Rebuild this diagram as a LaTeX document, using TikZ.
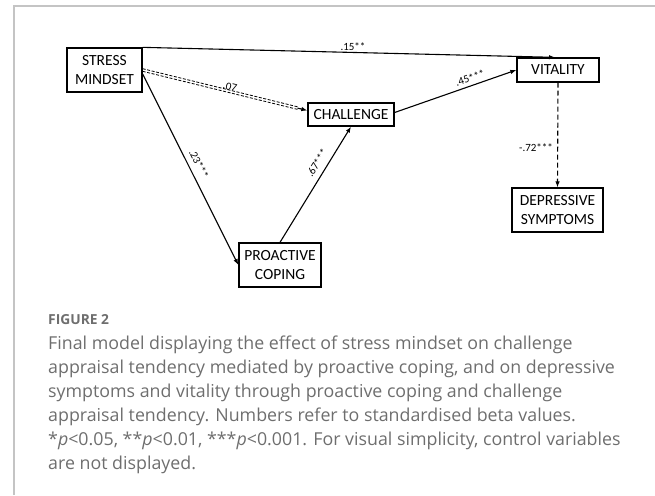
\documentclass[tikz,border=0pt]{standalone}
\usepackage{fontspec}
\setmainfont{Carlito}
\newfontfamily\capfont{Open Sans}
\usetikzlibrary{arrows.meta,calc}
\definecolor{framegray}{HTML}{C4C4C4}
\definecolor{capgray}{HTML}{6E6E6E}
\tikzset{
  box/.style={draw=black,line width=1.3pt,inner sep=1.5pt,align=center,font=\fontsize{15.5}{19.5}\selectfont},
  conn/.style={line width=1.1pt,-{Latex[length=6pt,width=4.5pt]}},
  lbl/.style={font=\fontsize{11}{12}\selectfont,inner sep=0.5pt},
  dbl/.style={line width=0.8pt,dash pattern=on 3pt off 1.6pt},
  capline/.style={anchor=base west,inner sep=0pt,text=capgray,font=\capfont\fontsize{17.8}{22}\selectfont},
}
\begin{document}
\begin{tikzpicture}[x=1pt,y=-1pt]
\useasboundingbox (0,0) rectangle (655,495);
% frame
\draw[framegray,line width=1.6pt] (14,495) -- (14,6) -- (655,6);
% boxes
\node[box,minimum width=75pt,minimum height=44pt] (stress) at (104.5,70) {STRESS\\MINDSET};
\node[box,minimum width=86pt,minimum height=23pt] (chal) at (351,114.5) {CHALLENGE};
\node[box,minimum width=82pt,minimum height=24pt] (vit) at (558,70) {VITALITY};
\node[box,minimum width=91pt,minimum height=44pt] (dep) at (557.5,210) {DEPRESSIVE\\SYMPTOMS};
\node[box,minimum width=82pt,minimum height=44pt] (pro) at (280,265) {PROACTIVE\\COPING};
% connectors
\draw[conn] (stress.north east) -- ([xshift=-3pt]vit.north);
\coordinate (dstart) at ([yshift=0pt]stress.east);
\coordinate (dend) at ([yshift=4pt]chal.west);
\draw[dbl] ($(dstart)+(0,-1.3)$) -- ($(dstart)!0.94!(dend)+(0,-1.3)$);
\draw[dbl] ($(dstart)+(0,1.3)$) -- ($(dstart)!0.94!(dend)+(0,1.3)$);
\draw[conn] ($(dstart)!0.94!(dend)$) -- (dend);
\draw[conn] ([yshift=-4pt]stress.east) -- (pro.west);
\draw[conn] (pro.north) -- (chal.south);
\draw[conn] ([yshift=2pt]chal.east) -- (vit.west);
\draw[conn,dash pattern=on 5pt off 3pt] (vit.south) -- (dep.north);
% labels
\node[lbl] (l15) at (353,47) {.15**};
\node[lbl,rotate=-13.5] (l07) at (230,87) {.07};
\node[lbl,rotate=-63] (l23) at (199,164) {.23***};
\node[lbl,rotate=58] (l67) at (317,163) {.67***};
\node[lbl,rotate=19] (l45) at (470,78) {.45***};
\node[lbl] (l72) at (536,148) {-.72***};
% caption
\node[anchor=base west,inner sep=0pt,text=capgray,font=\capfont\bfseries\fontsize{13.8}{16}\selectfont] (fig) at (48,324) {FIGURE 2};
\node[capline] (c1) at (48,349) {Final model displaying the effect of stress mindset on challenge};
\node[capline] (c2) at (48,373) {appraisal tendency mediated by proactive coping, and on depressive};
\node[capline] (c3) at (48,397) {symptoms and vitality through proactive coping and challenge};
\node[capline] (c4) at (48,421) {appraisal tendency. Numbers refer to standardised beta values.};
\node[capline] (c5) at (48,445) {*\textit{p}<0.05, **\textit{p}<0.01, ***\textit{p}<0.001. For visual simplicity, control variables};
\node[capline] (c6) at (48,469) {are not displayed.};
\end{tikzpicture}
\end{document}
